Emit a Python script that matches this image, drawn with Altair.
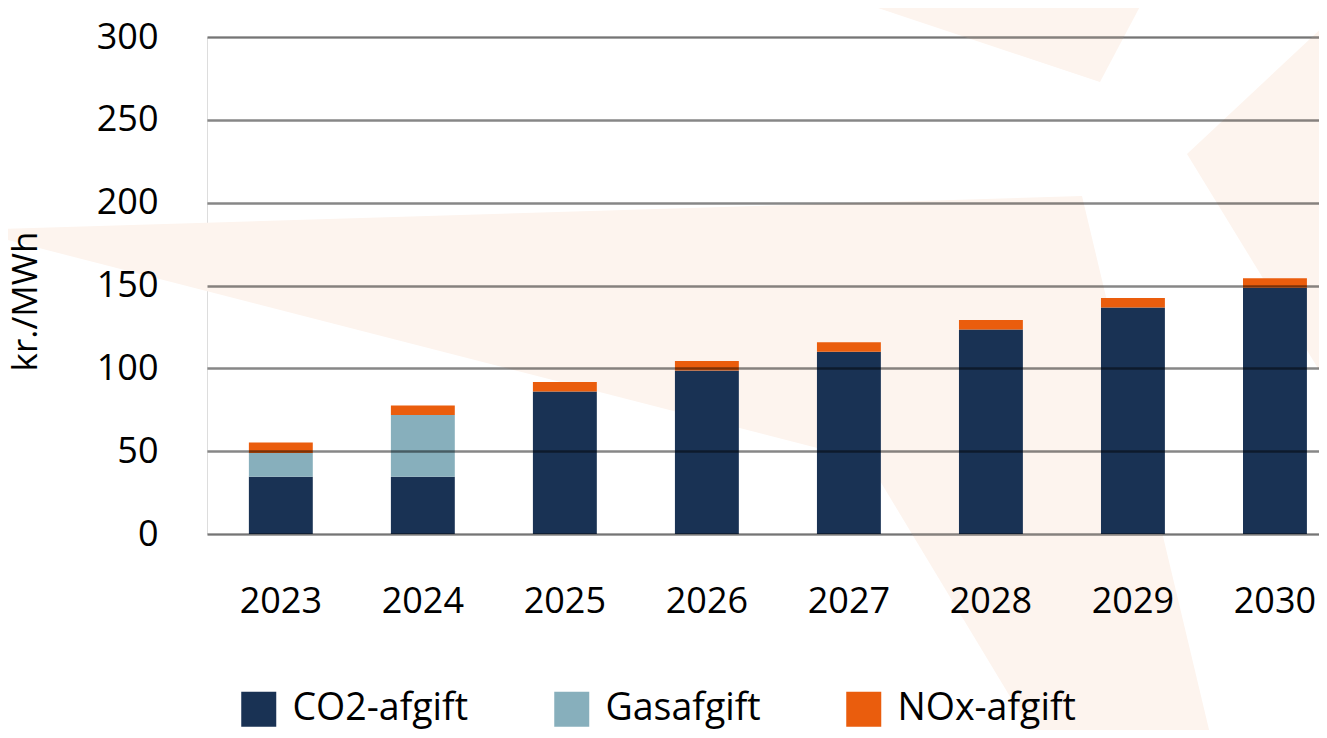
import altair as alt
import pandas as pd

# ---- data ----
years = ["2023", "2024", "2025", "2026", "2027", "2028", "2029", "2030"]
co2_afgift = [34.5, 34.5, 86.0, 98.7, 110.0, 123.4, 136.7, 148.7]
gas_afgift = [14.4, 37.3, 0, 0, 0, 0, 0, 0]
nox_afgift = [6.3, 5.8, 5.8, 5.8, 5.7, 5.7, 5.7, 5.7]

series_names = ["CO2-afgift", "Gasafgift", "NOx-afgift"]
series_colors = ["#193254", "#87afbc", "#ea5d0d"]
y_ticks = [0, 50, 100, 150, 200, 250, 300]
y_title = "kr./MWh"

# decorative watermark polygons (pixel space of the plot area)
watermark_shapes = [
    [[-207, 192], [875, 159], [1004, 701], [828, 701], [661, 424], [-207, 201], [-207, 192]],
    [[638, -40], [893, 45], [938, -40], [638, -40]],
    [[1120, -14], [980, 117], [1120, 346], [1120, -14]],
]
watermark_color = "#fdf4ee"

rows = []
for i, y in enumerate(years):
    for k, (name, vals) in enumerate(zip(series_names, [co2_afgift, gas_afgift, nox_afgift])):
        rows.append({"year": y, "series": name, "value": vals[i], "order": k})
df = pd.DataFrame(rows)

features = [
    {"type": "Feature", "properties": {}, "geometry": {"type": "Polygon", "coordinates": [shape]}}
    for shape in watermark_shapes
]

FONT = "Open Sans"

bg = (
    alt.Chart(alt.InlineData(values=features))
    .mark_geoshape(fill=watermark_color, strokeWidth=0, clip=False)
    .project(type="identity", scale=1, translate=[0, 0])
)

bars = (
    alt.Chart(df)
    .mark_bar()
    .encode(
        x=alt.X(
            "year:N",
            sort=years,
            scale=alt.Scale(paddingInner=0.55, paddingOuter=0.19, align=0.776),
            axis=alt.Axis(
                title=None,
                labelAngle=0,
                labelFontSize=36,
                labelFont=FONT,
                labelColor="#000000",
                labelPadding=50,
                domain=False,
                ticks=False,
                grid=False,
                zindex=1,
            ),
        ),
        y=alt.Y(
            "value:Q",
            stack="zero",
            scale=alt.Scale(domain=[0, 300], nice=False),
            axis=alt.Axis(
                values=y_ticks,
                title=y_title,
                titleFont=FONT,
                titleFontSize=35,
                titleFontWeight="normal",
                titleColor="#000000",
                titleAngle=270,
                titleAlign="center",
                titleBaseline="middle",
                titleX=-182,
                titleY=264,
                labelFontSize=36,
                labelFont=FONT,
                labelColor="#000000",
                labelPadding=49,
                domain=False,
                ticks=False,
                grid=True,
                gridColor="#000000",
                gridOpacity=0.47,
                gridWidth=2.5,
                zindex=1,
            ),
        ),
        color=alt.Color(
            "series:N",
            scale=alt.Scale(domain=series_names, range=series_colors),
            legend=alt.Legend(
                title=None,
                orient="none",
                direction="horizontal",
                legendX=33,
                legendY=653,
                symbolType="square",
                symbolSize=1225,
                symbolStrokeWidth=0,
                labelFont=FONT,
                labelFontSize=37.5,
                labelColor="#000000",
                labelOffset=15,
                labelLimit=400,
                columnPadding=84,
                zindex=1,
            ),
        ),
        order=alt.Order("order:Q", sort="ascending"),
    )
)

chart = (
    alt.layer(bg, bars)
    .properties(
        width=1112,
        height=497,
        autosize=alt.AutoSizeParams(type="none"),
        padding={"left": 199, "top": 29, "right": 0, "bottom": 196},
    )
    .configure_view(stroke=None)
    .configure(background="#ffffff")
)

chart.save("out.html", embed_options={"renderer": "svg", "actions": False})
